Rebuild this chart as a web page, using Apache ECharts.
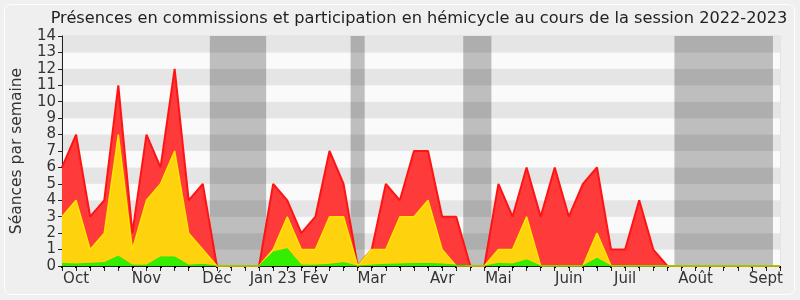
<!DOCTYPE html>
<html>
<head>
<meta charset="utf-8">
<script src="https://cdn.jsdelivr.net/npm/echarts@6/dist/echarts.min.js"></script>
<style>
html,body{margin:0;padding:0;background:#f0f0f0;}
#c{width:800px;height:300px;}
</style>
</head>
<body>
<div id="c"></div>
<script>
// Weekly data, 52 weeks (index 0 = first week of Oct 2022 session)
const weeks = Array.from({length: 52}, (_, i) => i);
const totalSeances = [6,8,3,4,11,2,8,6,12,4,5,0,0,0,0,5,4,2,3,7,5,0,1,5,4,7,7,3,3,0,0,5,3,6,3,6,3,5,6,1,1,4,1,0,0,0,0,0,0,0,0,0];
const hemicycle    = [3,4,1,2,8,1,4,5,7,2,1,0,0,0,0,1,3,1,1,3,3,0,1,1,3,3,4,1,0,0,0,1,1,3,0,0,0,0,2,0,0,0,0,0,0,0,0,0,0,0,0,0];
const interventions= [0.15,0.12,0.16,0.2,0.6,0.05,0.05,0.55,0.55,0.05,0.1,0,0,0,0,0.85,1.05,0.05,0.05,0.1,0.2,0,0.05,0.1,0.12,0.15,0.15,0.12,0.05,0,0,0.15,0.12,0.37,0,0,0,0,0.47,0,0,0,0,0,0,0,0,0,0,0,0,0];
const monthLabels = ["Oct","Nov","Déc","Jan 23","Fév","Mar","Avr","Mai","Juin","Juil","Août","Sept"];
const monthWeeks  = [1,6,11,15,18,22,27,31,36,40,45,50];
const vacations = [[10.5,14.5],[20.5,21.5],[28.5,30.5],[43.5,50.5]];
const yTicks = [0,1,2,3,4,5,6,7,8,9,10,11,12,13,14];

const labelMap = {};
monthWeeks.forEach((w, k) => { labelMap[w] = monthLabels[k]; });
const pairs = arr => arr.map((v, i) => [weeks[i], v]);

const chart = echarts.init(document.getElementById('c'), null, {renderer: 'canvas'});
const font = 'DejaVu Sans';
chart.setOption({
  animation: false,
  backgroundColor: '#f0f0f0',
  graphic: [{
    type: 'rect', z: -10, silent: true,
    shape: {x: 4.5, y: 4.5, width: 790, height: 290, r: 6},
    style: {fill: '#efefef', stroke: '#ffffff', lineWidth: 1}
  }],
  title: {
    text: 'Présences en commissions et participation en hémicycle au cours de la session 2022-2023',
    left: 414, top: 6, textAlign: 'center',
    textStyle: {fontFamily: font, fontSize: 16.2, fontWeight: 'normal', color: '#222'}
  },
  grid: {left: 62, right: 20, top: 36, bottom: 34, outerBoundsMode: 'none', containLabel: false,
    show: true, borderColor: '#dcdcdc', borderWidth: 1, backgroundColor: 'transparent'},
  xAxis: [{
    type: 'value', min: 0, max: 51, interval: 1,
    axisLine: {show: true, onZero: false, lineStyle: {color: '#222', width: 1}},
    axisTick: {show: true, length: 5, lineStyle: {color: '#222'}},
    axisLabel: {
      show: true, interval: 0, showMinLabel: true, showMaxLabel: true,
      formatter: v => labelMap[v] || '',
      fontFamily: font, fontSize: 15, color: '#333', margin: 6
    },
    splitLine: {show: false}
  }, {
    type: 'value', min: 0, max: 51, interval: 1, position: 'top',
    axisLine: {show: false},
    axisTick: {show: true, inside: true, length: 2, lineStyle: {color: '#000', width: 2}},
    axisLabel: {show: false},
    splitLine: {show: false}
  }],
  yAxis: {
    type: 'value', min: 0, max: 14, interval: 1,
    name: 'Séances par semaine', nameLocation: 'middle', nameGap: 37,
    nameTextStyle: {fontFamily: font, fontSize: 15.5, color: '#333'},
    axisLine: {show: true, lineStyle: {color: '#222'}},
    axisTick: {show: true, length: 4, lineStyle: {color: '#222'}},
    axisLabel: {fontFamily: font, fontSize: 15, color: '#333', margin: 6,
      formatter: v => yTicks.includes(v) ? String(v) : ''},
    splitLine: {show: false},
    splitArea: {show: true, areaStyle: {color: ['#fafafa', '#e5e5e5'], opacity: 1}}
  },
  series: [{
    type: 'line', z: 1, silent: true, symbol: 'none',
    data: [[0, 0], [51, 0]], lineStyle: {width: 0, opacity: 0},
    markArea: {
      silent: true,
      itemStyle: {color: 'rgba(0,0,0,0.24)'},
      data: vacations.map(v => [{xAxis: v[0], yAxis: 0}, {xAxis: v[1], yAxis: 14}])
    }
  }, {
    name: 'total', type: 'line', z: 3, symbol: 'none', silent: true,
    data: pairs(totalSeances),
    lineStyle: {color: '#ff1414', width: 2},
    areaStyle: {color: '#ff3a3a', opacity: 1}
  }, {
    name: 'hemicycle', type: 'line', z: 4, symbol: 'none', silent: true,
    data: pairs(hemicycle),
    lineStyle: {color: '#ffe600', width: 1.5},
    areaStyle: {color: '#ffd20e', opacity: 1}
  }, {
    name: 'interventions', type: 'line', z: 5, symbol: 'none', silent: true,
    data: pairs(interventions),
    lineStyle: {color: '#2ee600', width: 1},
    areaStyle: {color: '#33ee00', opacity: 1}
  }]
});
</script>
</body>
</html>
